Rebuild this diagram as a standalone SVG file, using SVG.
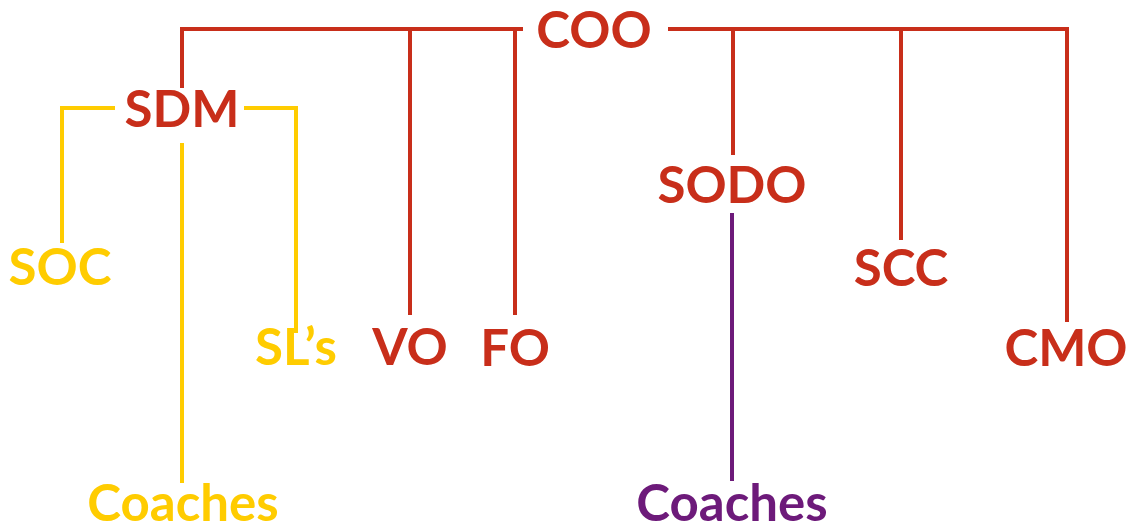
<svg xmlns="http://www.w3.org/2000/svg" width="1142" height="531" viewBox="0 0 1142 531">
<style>
text{font-family:Lato,"Noto Sans",sans-serif;font-weight:700;text-anchor:middle;font-size:51px}
.r{fill:#C82E1A}.y{fill:#FFCC00}.p{fill:#6D1A7A}
.lr{stroke:#C82E1A;stroke-width:4;fill:none}
.ly{stroke:#FFCC00;stroke-width:4;fill:none}
.lp{stroke:#6D1A7A;stroke-width:4;fill:none}
</style>
<rect width="1142" height="531" fill="#fff"/>
<g id="connectors">
<path class="lr" d="M182 88V29H523M410 29V315M515 29V315M668 29H1067V322M733 29V155M901 29V240"/>
<path class="ly" d="M115 108H62V243M244 108H296V333M182 143V483"/>
<path class="lp" d="M732 213V481"/>
</g>
<g id="COO"><text class="r" x="594" y="48">COO</text></g>
<g id="SDM"><text class="r" x="182" y="127">SDM</text></g>
<g id="SOC"><text class="y" x="60" y="285">SOC</text></g>
<g id="SLs"><text class="y" x="296" y="365">SL’s</text></g>
<g id="VO"><text class="r" x="410" y="365">VO</text></g>
<g id="FO"><text class="r" x="515" y="366">FO</text></g>
<g id="SODO"><text class="r" x="732" y="203">SODO</text></g>
<g id="SCC"><text class="r" x="901" y="286">SCC</text></g>
<g id="CMO"><text class="r" x="1066" y="366">CMO</text></g>
<g id="Coaches1"><text class="y" x="183" y="521">Coaches</text></g>
<g id="Coaches2"><text class="p" x="732" y="521">Coaches</text></g>
</svg>
